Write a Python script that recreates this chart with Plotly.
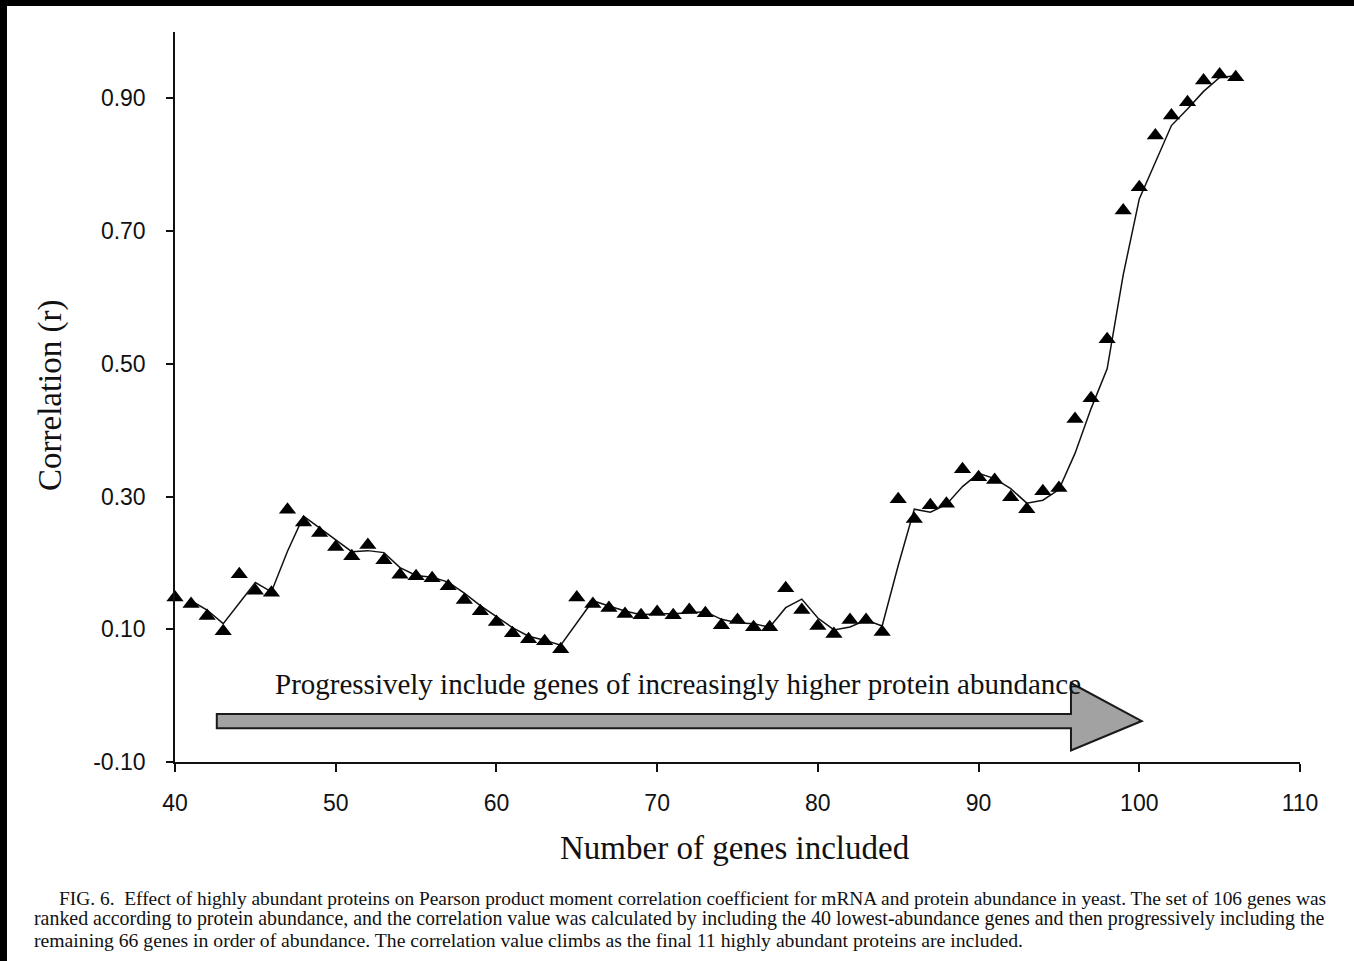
import plotly.graph_objects as go

# ---------------- data ----------------
genes = list(range(40, 107))
correlation = [
    0.148, 0.138, 0.120, 0.097, 0.183, 0.158, 0.155, 0.280, 0.261, 0.245,
    0.224, 0.210, 0.227, 0.204, 0.182, 0.180, 0.177, 0.165, 0.144, 0.127,
    0.111, 0.094, 0.085, 0.082, 0.070, 0.148, 0.138, 0.132, 0.123, 0.121,
    0.126, 0.121, 0.129, 0.124, 0.106, 0.114, 0.103, 0.103, 0.162, 0.129,
    0.105, 0.093, 0.114, 0.114, 0.096, 0.296, 0.266, 0.287, 0.289, 0.341,
    0.329, 0.325, 0.299, 0.281, 0.308, 0.313, 0.417, 0.448, 0.537, 0.731,
    0.766, 0.844, 0.874, 0.894, 0.927, 0.936, 0.932,
]
x_ticks = [40, 50, 60, 70, 80, 90, 100, 110]
y_ticks = [-0.10, 0.10, 0.30, 0.50, 0.70, 0.90]

# 2-period moving average trend line (derived from the data)
ma_x = genes[1:]
ma_y = [(correlation[i - 1] + correlation[i]) / 2 for i in range(1, len(correlation))]

caption_lines = [
    "FIG. 6.  Effect of highly abundant proteins on Pearson product moment correlation coefficient for mRNA and protein abundance in yeast. The set of 106 genes was",
    "ranked according to protein abundance, and the correlation value was calculated by including the 40 lowest-abundance genes and then progressively including the",
    "remaining 66 genes in order of abundance. The correlation value climbs as the final 11 highly abundant proteins are included.",
]

# ---------------- layout helpers ----------------
W, H = 1354, 961
L, R, T, B = 175, 1300, 32, 762  # plot area in pixels


def px(xp):
    return (xp - L) / (R - L)


def py(yp):
    return (B - yp) / (B - T)


SERIF = "Liberation Serif, Times New Roman, serif"
SANS = "Liberation Sans, Arial, sans-serif"

fig = go.Figure()
fig.add_trace(go.Scatter(
    x=ma_x, y=ma_y, mode="lines",
    line=dict(color="#111111", width=1.5),
    hoverinfo="skip", showlegend=False, cliponaxis=False,
))
fig.add_trace(go.Scatter(
    x=genes, y=correlation, mode="markers",
    marker=dict(symbol="triangle-up", size=15, color="#000000"),
    showlegend=False, cliponaxis=False,
))

shapes = []
# big gray arrow (data coordinates)
ax0, ax_neck, ax_tip = 42.6, 95.75, 100.15
ab_top, ab_bot = -0.0275, -0.0490
ah_top, ah_bot = 0.019, -0.0825
ay_mid = (ab_top + ab_bot) / 2
path = (f"M {ax0},{ab_top} L {ax_neck},{ab_top} L {ax_neck},{ah_top} L {ax_tip},{ay_mid} "
        f"L {ax_neck},{ah_bot} L {ax_neck},{ab_bot} L {ax0},{ab_bot} Z")
shapes.append(dict(type="path", path=path, xref="x", yref="y",
                   fillcolor="#a2a2a2", line=dict(color="#1a1a1a", width=2)))
# axis overhangs (x axis line extends left, y axis extends down)
shapes.append(dict(type="line", xref="paper", yref="paper",
                   x0=px(167), x1=px(175), y0=py(762), y1=py(762),
                   line=dict(color="#111111", width=1.5)))
shapes.append(dict(type="line", xref="paper", yref="paper",
                   x0=px(175), x1=px(175), y0=py(762), y1=py(770),
                   line=dict(color="#111111", width=1.5)))
# black scan borders (top and left)
shapes.append(dict(type="rect", xref="paper", yref="paper",
                   x0=px(0), x1=px(W), y0=py(6), y1=py(0),
                   fillcolor="#000000", line=dict(width=0), layer="above"))
shapes.append(dict(type="rect", xref="paper", yref="paper",
                   x0=px(0), x1=px(7), y0=py(H), y1=py(0),
                   fillcolor="#000000", line=dict(width=0), layer="above"))

annotations = [
    dict(text="Progressively include genes of increasingly higher protein abundance",
         xref="paper", yref="paper", x=px(273), y=py(684), xanchor="left", yanchor="middle",
         showarrow=False, font=dict(family=SERIF, size=29, color="#111111")),
    dict(text="Correlation (r)", xref="paper", yref="paper", x=px(50), y=py(395),
         xanchor="center", yanchor="middle", textangle=-90, showarrow=False,
         font=dict(family=SERIF, size=33, color="#111111")),
    dict(text="Number of genes included", xref="paper", yref="paper", x=px(735), y=py(848),
         xanchor="center", yanchor="middle", showarrow=False,
         font=dict(family=SERIF, size=33, color="#111111")),
]
cap_y = [898, 918, 940]
cap_x = [57, 32, 32]
cap_size = [19.4, 19.9, 19.7]
for t, yy, xx, ss in zip(caption_lines, cap_y, cap_x, cap_size):
    annotations.append(dict(text=t, xref="paper", yref="paper", x=px(xx), y=py(yy),
                            xanchor="left", yanchor="middle", showarrow=False,
                            font=dict(family=SERIF, size=ss, color="#111111")))

fig.update_layout(
    width=W, height=H,
    margin=dict(l=L, r=W - R, t=T, b=H - B),
    paper_bgcolor="white", plot_bgcolor="white",
    shapes=shapes, annotations=annotations,
    xaxis=dict(range=[40, 110], tickvals=x_ticks, ticktext=[str(v) for v in x_ticks],
               showgrid=False, zeroline=False, showline=True, linecolor="#111111", linewidth=1.5,
               ticks="outside", ticklen=8, tickwidth=1.5, tickcolor="#111111",
               tickfont=dict(family=SANS, size=23, color="#111111"), ticklabelstandoff=12),
    yaxis=dict(range=[-0.10, 1.0], tickvals=y_ticks, ticktext=[f"{v:.2f}" for v in y_ticks],
               showgrid=False, zeroline=False, showline=True, linecolor="#111111", linewidth=1.5,
               ticks="outside", ticklen=7, tickwidth=1.5, tickcolor="#111111",
               tickfont=dict(family=SANS, size=23, color="#111111"), ticklabelstandoff=16),
)

fig.write_html("out.html")
